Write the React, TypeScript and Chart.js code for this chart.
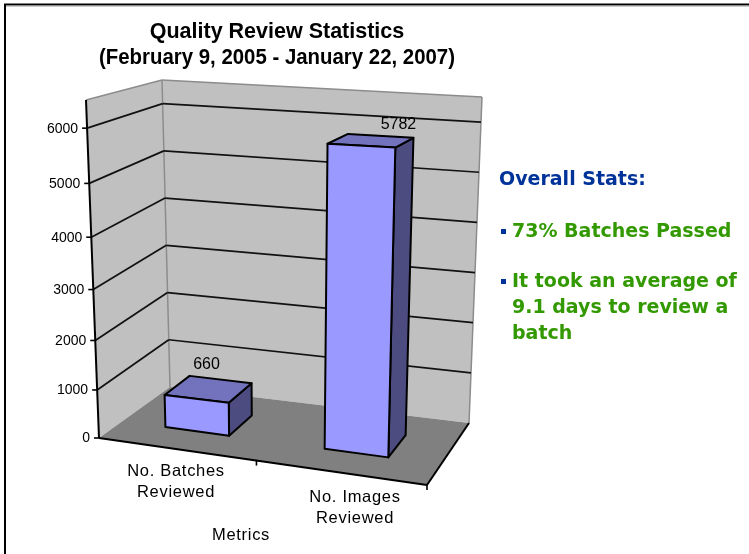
import React, { useEffect, useRef } from "react";
import { Chart, registerables } from "chart.js";

Chart.register(...registerables);

const titleLines = ["Quality Review Statistics", "(February 9, 2005 - January 22, 2007)"];
const categories = [["No. Batches", "Reviewed"], ["No. Images", "Reviewed"]];
const metricValues = [660, 5782];
const yTickValues = [0, 1000, 2000, 3000, 4000, 5000, 6000];
const xAxisTitle = "Metrics";
const statsHeading = "Overall Stats:";
const statsBullets = [["73% Batches Passed"], ["It took an average of", "9.1 days to review a", "batch"]];

type Pt = [number, number];
// Oblique projection cage: floor corners and wall-top corners.
const FL: Pt = [99, 438], BL: Pt = [170, 387], BR: Pt = [469, 423], FR: Pt = [427, 485];
const TFL: Pt = [86, 100], TBL: Pt = [162, 80], TBR: Pt = [482, 97], TFR: Pt = [438, 119];

const lerp = (a: Pt, b: Pt, k: number): Pt => [a[0] + (b[0] - a[0]) * k, a[1] + (b[1] - a[1]) * k];
const project = (u: number, w: number, tIn: number): Pt => {
  const t = tIn - 0.09 * (1 - w) * (1 - u) * tIn * (1 - tIn);
  const floor = lerp(lerp(FL, FR, u), lerp(BL, BR, u), w);
  const top = lerp(lerp(TFL, TFR, u), lerp(TBL, TBR, u), w);
  return lerp(floor, top, t);
};

function poly(ctx: CanvasRenderingContext2D, pts: Pt[], fill: string | null, stroke: string | null, lw = 1) {
  ctx.beginPath();
  pts.forEach((p, i) => (i ? ctx.lineTo(p[0], p[1]) : ctx.moveTo(p[0], p[1])));
  ctx.closePath();
  if (fill) { ctx.fillStyle = fill; ctx.fill(); }
  if (stroke) { ctx.strokeStyle = stroke; ctx.lineWidth = lw; ctx.lineJoin = "round"; ctx.stroke(); }
}
function line(ctx: CanvasRenderingContext2D, a: Pt, b: Pt, color: string, lw: number) {
  ctx.beginPath();
  ctx.moveTo(a[0], a[1]);
  ctx.lineTo(b[0], b[1]);
  ctx.strokeStyle = color;
  ctx.lineWidth = lw;
  ctx.stroke();
}

const DEPTH_FRONT = 0.33, DEPTH_BACK = 0.7, U_SHIFT = -0.015;
const LABEL_NUDGE: Pt[] = [[-45, -19], [-15, -13]];
const TICK_FONT = '14px "Liberation Sans", Arial, sans-serif';
const VALUE_FONT = '16px "Liberation Sans", Arial, sans-serif';
const BODY_FONT = '16.5px "Liberation Sans", Arial, sans-serif';
const STAT_FONT = 'bold 19px "DejaVu Sans", Verdana, sans-serif';

const cagePlugin = {
  id: "cage3d",
  beforeDatasetsDraw(chart: any) {
    const { ctx, scales } = chart;
    const y = scales.y;
    const area = chart.chartArea;
    const tOf = (v: number) => (area.bottom - y.getPixelForValue(v)) / (area.bottom - area.top);
    ctx.save();
    // page frame (top and left only, as in the reference)
    line(ctx, [4, 4.5], [749, 4.5], "#000", 2);
    line(ctx, [5, 4], [5, 554], "#000", 2);
    line(ctx, [6, 6], [749, 6], "#999", 1);

    // walls and floor
    poly(ctx, [FL, BL, TBL, TFL], "#c0c0c0", null);
    poly(ctx, [BL, BR, TBR, TBL], "#c0c0c0", null);
    poly(ctx, [FL, FR, BR, BL], "#808080", null);
    line(ctx, TFL, TBL, "#8c8c8c", 1.5);
    line(ctx, TBL, BL, "#8c8c8c", 1.5);
    line(ctx, TBL, TBR, "#8c8c8c", 1.5);
    line(ctx, TBR, BR, "#8c8c8c", 1.5);

    // gridlines, axis ticks and labels, all from the value scale
    yTickValues.forEach((v) => {
      const t = tOf(v);
      if (v > 0) {
        line(ctx, project(0, 0, t), project(0, 1, t), "#111", 1.7);
        line(ctx, project(0, 1, t), project(1, 1, t), "#111", 1.7);
      }
      const p = project(0, 0, t);
      line(ctx, [p[0] - 5, p[1]], p, "#000", 1.6);
      ctx.fillStyle = "#000";
      ctx.font = TICK_FONT;
      ctx.textAlign = "right";
      ctx.textBaseline = "middle";
      ctx.fillText(String(v), p[0] - 9, p[1] + 0.5);
    });

    // axis lines
    line(ctx, TFL, FL, "#000", 2);
    line(ctx, FL, FR, "#000", 2);
    line(ctx, FR, BR, "#000", 2);
    [0.48, 1].forEach((u) => {
      const p = project(u, 0, 0);
      line(ctx, p, [p[0], p[1] + 5], "#000", 1.6);
    });
    ctx.restore();
  },
  afterDatasetsDraw(chart: any) {
    const { ctx } = chart;
    const area = chart.chartArea;
    const meta = chart.getDatasetMeta(0);
    const uOf = (px: number) => (px - area.left) / (area.right - area.left) + U_SHIFT;
    const tOf = (py: number) => (area.bottom - py) / (area.bottom - area.top);
    ctx.save();
    meta.data.forEach((bar: any, i: number) => {
      const { x, y, base, width } = bar.getProps(["x", "y", "base", "width"], true);
      const u0 = uOf(x - width / 2), u1 = uOf(x + width / 2);
      const t0 = tOf(base), t1 = tOf(y);
      const a = project(u0, DEPTH_FRONT, t0), b = project(u1, DEPTH_FRONT, t0);
      const c = project(u1, DEPTH_FRONT, t1), d = project(u0, DEPTH_FRONT, t1);
      const e = project(u1, DEPTH_BACK, t0), f = project(u1, DEPTH_BACK, t1), g = project(u0, DEPTH_BACK, t1);
      poly(ctx, [b, e, f, c], "#4c4c80", "#000", 2);
      poly(ctx, [d, c, f, g], "#7272bd", "#000", 2);
      poly(ctx, [a, b, c, d], "#9999ff", "#000", 2);
      // value label
      ctx.fillStyle = "#000";
      ctx.font = VALUE_FONT;
      ctx.textAlign = "center";
      ctx.textBaseline = "middle";
      ctx.fillText(String(metricValues[i]), f[0] + LABEL_NUDGE[i][0], f[1] + LABEL_NUDGE[i][1]);
      // category label
      const lx = [176, 355][i];
      const ly = [471, 497][i];
      ctx.font = BODY_FONT;
      (ctx as any).letterSpacing = "0.7px";
      categories[i].forEach((s, k) => ctx.fillText(s, lx, ly + k * 21));
      (ctx as any).letterSpacing = "0px";
    });
    // axis title
    ctx.fillStyle = "#000";
    ctx.font = BODY_FONT;
    ctx.textAlign = "center";
    ctx.textBaseline = "middle";
    (ctx as any).letterSpacing = "0.7px";
    ctx.fillText(xAxisTitle, 241, 535);
    (ctx as any).letterSpacing = "0px";

    // side notes
    ctx.textAlign = "left";
    ctx.font = STAT_FONT;
    ctx.fillStyle = "#003399";
    ctx.fillText(statsHeading, 499, 180);
    const tops = [232, 282];
    statsBullets.forEach((lines, i) => {
      ctx.fillStyle = "#003399";
      ctx.fillRect(501, tops[i] - 3, 5, 5);
      ctx.fillStyle = "#339900";
      lines.forEach((s, k) => ctx.fillText(s, 512, tops[i] + k * 26));
    });
    ctx.restore();
  },
};

export default function App() {
  const ref = useRef<HTMLCanvasElement>(null);
  useEffect(() => {
    document.body.style.margin = "0";
    const chart = new Chart(ref.current!, {
      type: "bar",
      data: {
        labels: categories.map((c) => c.join(" ")),
        datasets: [{
          label: "Metrics",
          data: metricValues,
          backgroundColor: "rgba(0,0,0,0)",
          barPercentage: 0.4,
          categoryPercentage: 1,
        }],
      },
      options: {
        animation: false,
        responsive: false,
        layout: { padding: { left: 99, right: 294, top: 0, bottom: 116 } },
        scales: {
          x: { display: false },
          y: { display: false, min: 0, max: 6500, ticks: { stepSize: 1000 } },
        },
        plugins: {
          legend: { display: false },
          tooltip: { enabled: false },
          title: {
            display: true,
            fullSize: false,
            text: titleLines,
            color: "#000",
            font: { family: '"Liberation Sans", Arial, sans-serif', size: 21.5, weight: "bold", lineHeight: 1.22 },
            padding: { top: 19, bottom: 31 },
          },
        },
      } as any,
      plugins: [cagePlugin],
    });
    return () => chart.destroy();
  }, []);
  return (
    <div style={{ position: "fixed", left: 0, top: 0, width: 749, height: 554, background: "#fff" }}>
      <canvas ref={ref} width={749} height={554} style={{ display: "block" }} />
    </div>
  );
}
